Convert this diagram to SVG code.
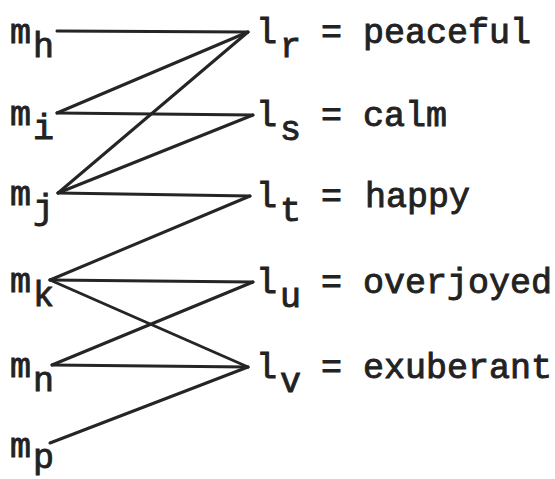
<svg xmlns="http://www.w3.org/2000/svg" width="555" height="479" viewBox="0 0 555 479">
<style>
text{font-family:"Liberation Mono","Courier New",monospace;font-size:35px;fill:#222;stroke:#222;stroke-width:0.9}
.c line{stroke:#252525;stroke-width:3;stroke-linecap:round}
</style>
<rect width="555" height="479" fill="#fff"/>
<g class="c" id="connectors">
<line x1="57" y1="31" x2="248" y2="32"/>
<line x1="57" y1="113" x2="248" y2="32"/>
<line x1="57" y1="113" x2="253" y2="115"/>
<line x1="58" y1="193" x2="248" y2="32"/>
<line x1="58" y1="193" x2="253" y2="115"/>
<line x1="58" y1="193" x2="250" y2="196"/>
<line x1="50" y1="280" x2="250" y2="196"/>
<line x1="50" y1="280" x2="253" y2="282"/>
<line x1="50" y1="280" x2="248" y2="367"/>
<line x1="52" y1="365" x2="253" y2="282"/>
<line x1="52" y1="365" x2="248" y2="367"/>
<line x1="50" y1="443" x2="248" y2="367"/>
</g>
<g id="m_h"><text x="10" y="43">m</text><text x="33" y="57">h</text></g>
<g id="m_i"><text x="10" y="125">m</text><text x="33" y="139">i</text></g>
<g id="m_j"><text x="10" y="205">m</text><text x="33" y="219">j</text></g>
<g id="m_k"><text x="10" y="292">m</text><text x="33" y="306">k</text></g>
<g id="m_n"><text x="10" y="377">m</text><text x="33" y="391">n</text></g>
<g id="m_p"><text x="10" y="457">m</text><text x="33" y="468">p</text></g>
<g id="l_r"><text x="256" y="43">l</text><text x="280" y="57">r</text><text x="321" y="43">=</text><text x="363" y="43">peaceful</text></g>
<g id="l_s"><text x="256" y="126">l</text><text x="280" y="140">s</text><text x="321" y="126">=</text><text x="363" y="126">calm</text></g>
<g id="l_t"><text x="256" y="207">l</text><text x="280" y="221">t</text><text x="321" y="207">=</text><text x="365" y="207">happy</text></g>
<g id="l_u"><text x="256" y="293">l</text><text x="280" y="307">u</text><text x="321" y="293">=</text><text x="363" y="293">overjoyed</text></g>
<g id="l_v"><text x="256" y="378">l</text><text x="280" y="392">v</text><text x="321" y="378">=</text><text x="363" y="378">exuberant</text></g>
</svg>
